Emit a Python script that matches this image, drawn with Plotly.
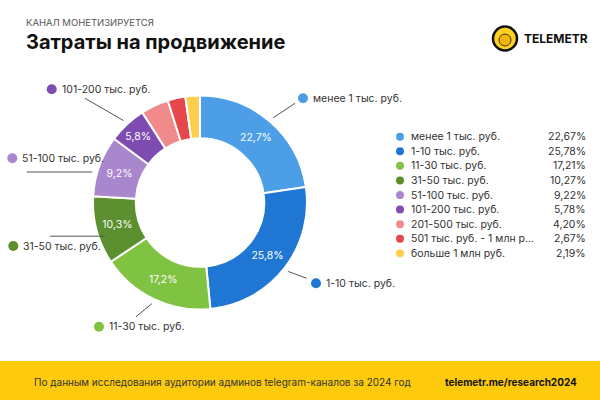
import math
import plotly.graph_objects as go

# ---------------- data ----------------
categories = [
    "менее 1 тыс. руб.",
    "1-10 тыс. руб.",
    "11-30 тыс. руб.",
    "31-50 тыс. руб.",
    "51-100 тыс. руб.",
    "101-200 тыс. руб.",
    "201-500 тыс. руб.",
    "501 тыс. руб. - 1 млн р...",
    "больше 1 млн руб.",
]
values = [22.67, 25.78, 17.21, 10.27, 9.22, 5.78, 4.20, 2.67, 2.19]
legend_pct = ["22,67%", "25,78%", "17,21%", "10,27%", "9,22%", "5,78%", "4,20%", "2,67%", "2,19%"]
show_inside = [True, True, True, True, True, True, False, False, False]
title_text = "Затраты на продвижение"
subtitle_text = "КАНАЛ МОНЕТИЗИРУЕТСЯ"
footer_text = "По данным исследования аудитории админов telegram-каналов за 2024 год"
footer_url = "telemetr.me/research2024"

# ---------------- style ----------------
colors = ["#4C9EE6", "#1F77D3", "#80C242", "#5B8F2F", "#A987CD",
          "#7E4CB1", "#F08A8B", "#E5474D", "#FBD04F"]
FONT = "Inter"
TXT = "#333333"
W, H = 600, 400
CX, CY, R_OUT, HOLE = 200, 202.5, 107, 0.6

# callout label placement (pixel layout), keyed by category index
# mode "radial": line ends on slice mid-angle; "flat": horizontal line to ring
callouts = {
    0: dict(dot=(303, 98.3), out=(295, 103.3), mode="radial", r=112),
    1: dict(dot=(316, 283.3), out=(306.7, 278.3), mode="radial", r=112),
    2: dict(dot=(99, 326.7), out=(136, 316.7), mode="radial", r=112),
    3: dict(dot=(13.3, 246), out=(50, 236.2), mode="flat", r=101),
    4: dict(dot=(12.3, 158.3), out=(26.7, 172), mode="flat", r=112),
    5: dict(dot=(51.7, 89.3), out=(85, 98.3), mode="radial", r=112),
}

def fmt1(v):
    return f"{v:.1f}".replace(".", ",") + "%"

texts = [fmt1(v) if s else "" for v, s in zip(values, show_inside)]

fig = go.Figure()

fig.add_trace(go.Pie(
    labels=categories, values=values, sort=False, direction="clockwise",
    rotation=0, hole=HOLE,
    marker=dict(colors=colors, line=dict(color="white", width=2)),
    text=texts, texttemplate="%{text}", textposition="inside",
    insidetextorientation="horizontal",
    textfont=dict(family=FONT, size=10.5, color="white"),
    domain=dict(x=[(CX - R_OUT) / W, (CX + R_OUT) / W],
                y=[(H - CY - R_OUT) / H, (H - CY + R_OUT) / H]),
    showlegend=False, hoverinfo="label+percent",
))

shapes = []
annotations = []

# footer band
shapes.append(dict(type="rect", xref="x", yref="y", x0=0, x1=W, y0=361, y1=H,
                   fillcolor="#FDCB0B", line=dict(width=0), layer="below"))

# callouts: line inner end derived from slice geometry
total = sum(values)
cum = 0.0
mids = []
for v in values:
    mids.append((cum + v / 2) / total * 2 * math.pi)
    cum += v

cdx, cdy, ccol = [], [], []
for i, c in callouts.items():
    ox, oy = c["out"]
    r = c["r"]
    if c["mode"] == "radial":
        a = mids[i]
        ix, iy = CX + r * math.sin(a), CY - r * math.cos(a)
    else:
        side = -1 if math.sin(mids[i]) < 0 else 1
        ix = CX + side * math.sqrt(max(r * r - (oy - CY) ** 2, 0))
        iy = oy
    shapes.append(dict(type="line", xref="x", yref="y", x0=ox, y0=oy, x1=ix, y1=iy,
                       line=dict(color="#555555", width=1)))
    dx, dy = c["dot"]
    cdx.append(dx); cdy.append(dy); ccol.append(colors[i])
    annotations.append(dict(x=dx + 8, y=dy, xref="x", yref="y", text=categories[i],
                            showarrow=False, xanchor="left", yanchor="middle",
                            font=dict(family=FONT, size=10.5, color=TXT)))

fig.add_trace(go.Scatter(x=cdx, y=cdy, mode="markers",
                         marker=dict(size=10, color=ccol), showlegend=False,
                         hoverinfo="skip"))

# legend (custom)
LEG_Y0, LEG_DY = 136.7, 14.58
ly = [LEG_Y0 + i * LEG_DY for i in range(len(categories))]
fig.add_trace(go.Scatter(x=[400] * len(categories), y=ly, mode="markers",
                         marker=dict(size=8, color=colors), showlegend=False,
                         hoverinfo="skip"))
for i, (lab, p) in enumerate(zip(categories, legend_pct)):
    annotations.append(dict(x=409, y=ly[i], xref="x", yref="y", text=lab,
                            showarrow=False, xanchor="left", yanchor="middle",
                            font=dict(family=FONT, size=10.5, color=TXT)))
    annotations.append(dict(x=588, y=ly[i], xref="x", yref="y", text=p,
                            showarrow=False, xanchor="right", yanchor="middle",
                            font=dict(family=FONT, size=10.5, color=TXT)))

# titles
annotations.append(dict(x=24, y=22.5, xref="x", yref="y", text=subtitle_text,
                        showarrow=False, xanchor="left", yanchor="middle",
                        font=dict(family=FONT, size=9.5, color="#555555")))
annotations.append(dict(x=24, y=42, xref="x", yref="y", text="<b>" + title_text + "</b>",
                        showarrow=False, xanchor="left", yanchor="middle",
                        font=dict(family=FONT, size=20, color="#111111")))

# logo
shapes.append(dict(type="circle", xref="x", yref="y", x0=493, x1=517, y0=26.5, y1=50.5,
                   fillcolor="#FFD21F", line=dict(color="#111111", width=2.5)))
shapes.append(dict(type="circle", xref="x", yref="y", x0=499, x1=511, y0=34, y1=46,
                   fillcolor="#F2B600", line=dict(color="#333333", width=1)))
annotations.append(dict(x=522, y=38.5, xref="x", yref="y", text="<b>TELEMETR</b>",
                        showarrow=False, xanchor="left", yanchor="middle",
                        font=dict(family=FONT, size=12, color="#111111")))

# footer texts
annotations.append(dict(x=32, y=381.5, xref="x", yref="y", text=footer_text,
                        showarrow=False, xanchor="left", yanchor="middle",
                        font=dict(family=FONT, size=10, color="#333333")))
annotations.append(dict(x=579, y=381.5, xref="x", yref="y", text="<b>" + footer_url + "</b>",
                        showarrow=False, xanchor="right", yanchor="middle",
                        font=dict(family=FONT, size=10, color="#111111")))

fig.update_layout(
    width=W, height=H, margin=dict(l=0, r=0, t=0, b=0),
    paper_bgcolor="white", plot_bgcolor="rgba(0,0,0,0)",
    xaxis=dict(range=[0, W], visible=False, fixedrange=True),
    yaxis=dict(range=[H, 0], visible=False, fixedrange=True),
    shapes=shapes, annotations=annotations, showlegend=False,
)

fig.write_html("out.html",
               config={"displayModeBar": False},
               post_script="document.body.style.margin='0';document.body.style.overflow='hidden';")
